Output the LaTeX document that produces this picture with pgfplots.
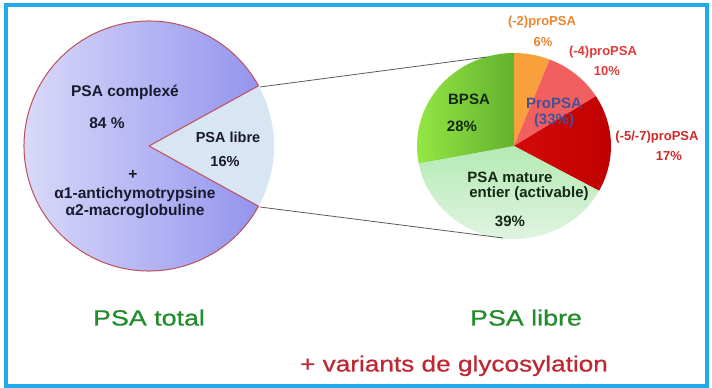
\documentclass[border=0pt]{standalone}
\usepackage{pgfplots}
\pgfplotsset{compat=1.18}
\usepackage{pgfplotstable}
\usepackage{fontspec}
\setmainfont{Liberation Sans}
\newfontfamily\titlefont{Liberation Sans}[FakeBold=0.7]

\definecolor{framecol}{RGB}{30,170,235}
\definecolor{outl}{RGB}{190,80,90}
\definecolor{tgreen}{RGB}{35,140,45}
\definecolor{tred}{RGB}{190,40,50}
\definecolor{problue}{RGB}{70,80,150}
\definecolor{lorange}{RGB}{232,134,46}
\definecolor{lred}{RGB}{226,58,58}
\definecolor{ldred}{RGB}{208,40,40}

\tikzset{
  sComplexe/.style={left color={rgb,255:red,222;green,222;blue,250},right color={rgb,255:red,148;green,148;blue,238},draw=outl,line width=1pt},
  sLibre/.style={fill={rgb,255:red,216;green,229;blue,242}},
  sMinusTwo/.style={fill={rgb,255:red,248;green,160;blue,60}},
  sMinusFour/.style={fill={rgb,255:red,242;green,95;blue,95}},
  sMinusFive/.style={left color={rgb,255:red,212;green,10;blue,10},right color={rgb,255:red,190;green,0;blue,0}},
  sMature/.style={top color={rgb,255:red,180;green,234;blue,180},bottom color={rgb,255:red,230;green,245;blue,230}},
  sBPSA/.style={left color={rgb,255:red,150;green,232;blue,70},right color={rgb,255:red,98;green,178;blue,45}},
}

% PSA total
\pgfplotstableread{
label value style
libre 16 sLibre
complexe 84 sComplexe
}\totaltable

% PSA libre
\pgfplotstableread{
label value style
m2 6 sMinusTwo
m4 10 sMinusFour
m57 17 sMinusFive
mature 39 sMature
bpsa 28 sBPSA
}\libretable

% #1 table, #2 cx, #3 cy, #4 rx, #5 ry, #6 start angle (clockwise)
\newcommand{\drawpie}[6]{%
  \pgfplotstablegetrowsof{#1}%
  \pgfmathtruncatemacro{\pieN}{\pgfplotsretval-1}%
  \xdef\piecum{#6}%
  \foreach \i in {0,...,\pieN}{%
    \pgfplotstablegetelem{\i}{value}\of{#1}\let\pv\pgfplotsretval
    \pgfplotstablegetelem{\i}{style}\of{#1}\let\ps\pgfplotsretval
    \pgfmathsetmacro{\aA}{\piecum}%
    \pgfmathsetmacro{\aB}{\piecum-3.6*\pv}%
    \path[\ps] (axis cs:#2,#3) -- (axis cs:{#2+#4*cos(\aA)},{#3+#5*sin(\aA)})
      arc[start angle=\aA, end angle=\aB, x radius=#4, y radius=#5] -- cycle;
    \xdef\piecum{\aB}%
  }%
}

\begin{document}
\begin{tikzpicture}
\begin{axis}[width=712pt,height=388pt,scale only axis,
  xmin=0,xmax=712,ymin=0,ymax=388,hide axis,clip=false]
\path (axis cs:0,0) rectangle (axis cs:712,388);
\draw[framecol,line width=4pt] (axis cs:6,383) rectangle (axis cs:707,2);

\pgfplotsextra{\drawpie{\totaltable}{149}{242}{125}{125}{28.8}}
\pgfplotsextra{\drawpie{\libretable}{514}{242}{97}{93}{90}}

\addplot[color={rgb,255:red,90;green,90;blue,90},line width=0.8pt,no markers] coordinates {(260,301) (487,331)};
\addplot[color={rgb,255:red,90;green,90;blue,90},line width=0.8pt,no markers] coordinates {(260,181) (503,150)};

% left pie labels
\begin{scope}[every node/.style={font=\bfseries\fontsize{15.5}{18}\selectfont,text={rgb,255:red,25;green,25;blue,45},inner sep=0pt}]
\node at (axis cs:125,296) {PSA complexé};
\node at (axis cs:107,265) {84 \%};
\node at (axis cs:133,213) {+};
\node at (axis cs:135,194) {α1-antichymotrypsine};
\node at (axis cs:135,176) {α2-macroglobuline};
\node[font=\bfseries\fontsize{14.5}{17}\selectfont] at (axis cs:228,251) {PSA libre};
\node[font=\bfseries\fontsize{14.5}{17}\selectfont] at (axis cs:225,226) {16\%};
\end{scope}

% right pie labels
\begin{scope}[every node/.style={font=\bfseries\fontsize{15}{18}\selectfont,text={rgb,255:red,20;green,40;blue,20},inner sep=0pt}]
\node at (axis cs:469,289) {BPSA};
\node at (axis cs:462,262) {28\%};
\node at (axis cs:510,211) {PSA mature};
\node at (axis cs:529,194) {entier (activable)};
\node at (axis cs:510,167) {39\%};
\node[text=problue] at (axis cs:554,285) {ProPSA};
\node[text=problue] at (axis cs:554,267) {(33\%)};
\end{scope}
\begin{scope}[every node/.style={font=\bfseries\fontsize{13}{15}\selectfont,inner sep=0pt}]
\node[text=lorange] at (axis cs:542,366) {(-2)proPSA};
\node[text=lorange] at (axis cs:543,346) {6\%};
\node[text=lred] at (axis cs:603,336) {(-4)proPSA};
\node[text=lred] at (axis cs:607,317) {10\%};
\node[text=ldred] at (axis cs:657,251) {(-5/-7)proPSA};
\node[text=ldred] at (axis cs:669,232) {17\%};
\end{scope}

% bottom titles
\begin{scope}[every node/.style={font=\titlefont\fontsize{22}{26}\selectfont,inner sep=0pt,anchor=base}]
\node[text=tgreen] at (axis cs:149,62.5) {\scalebox{1.22}[1]{PSA total}};
\node[text=tgreen] at (axis cs:526,62.5) {\scalebox{1.22}[1]{PSA libre}};
\node[text=tred] at (axis cs:454,16.5) {\scalebox{1.19}[1]{+ variants de glycosylation}};
\end{scope}
\end{axis}
\end{tikzpicture}
\end{document}
